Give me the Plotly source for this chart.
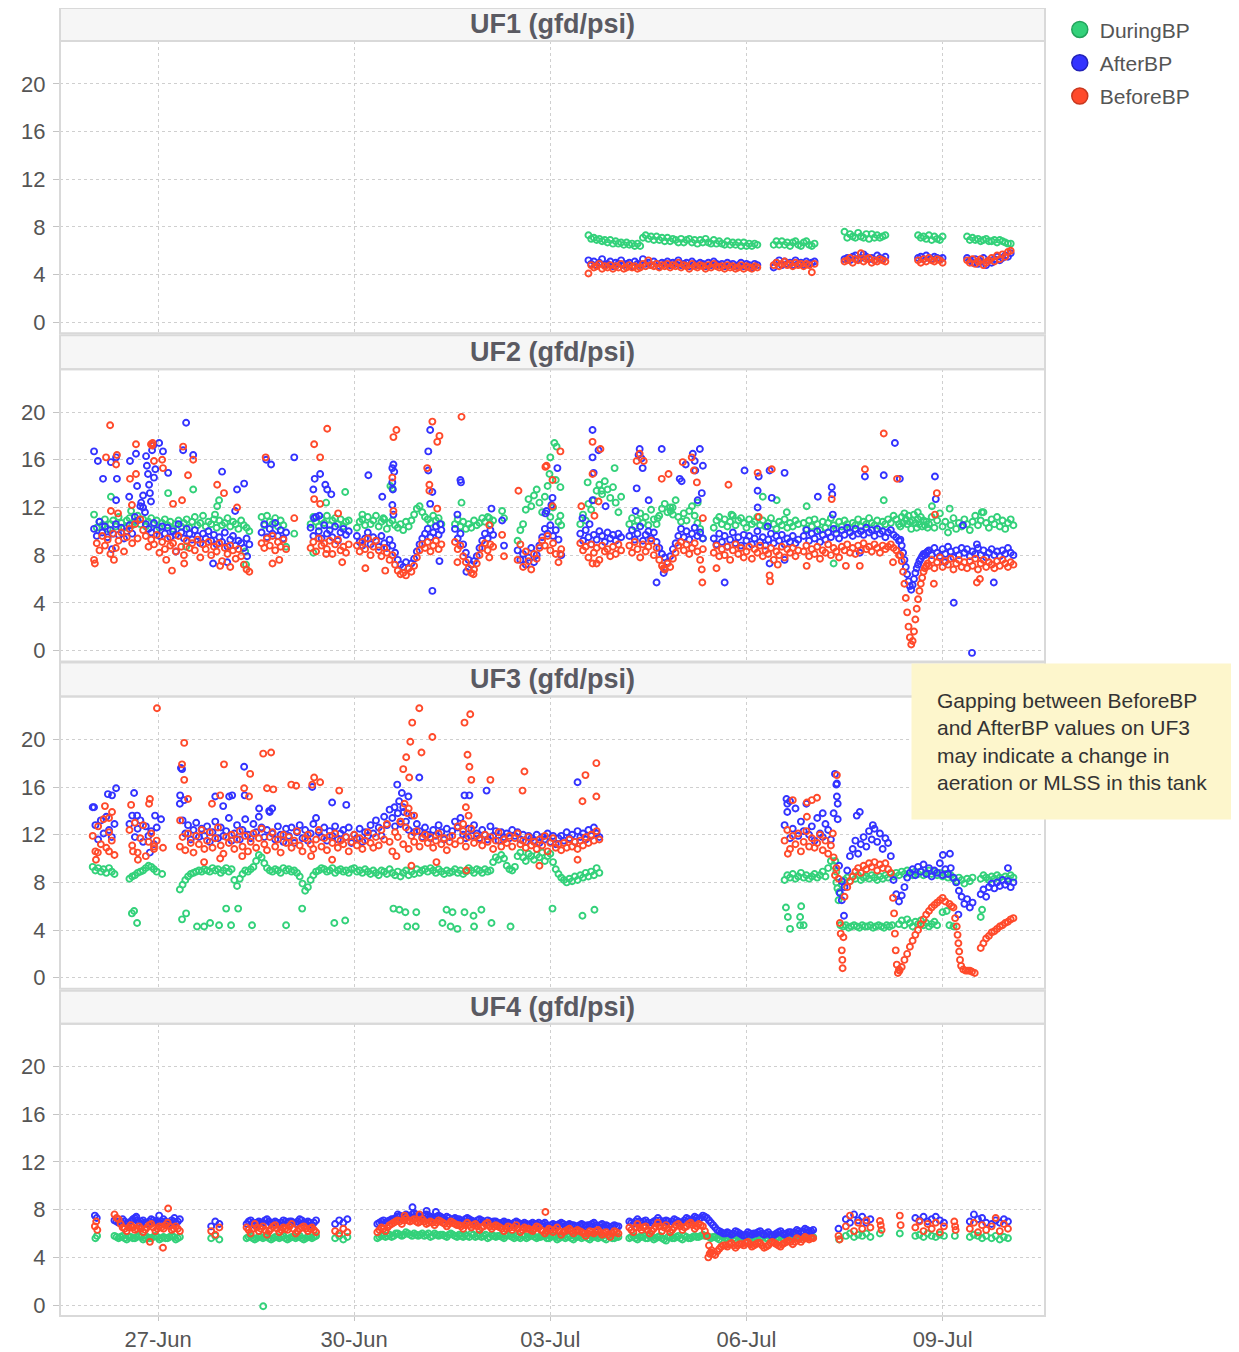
import pandas as pd
import plotly.graph_objects as go
from plotly.subplots import make_subplots

T0 = pd.Timestamp("2018-06-26 00:00")  # hours in the data are counted from this moment

PANEL_TITLES = ["UF1 (gfd/psi)", "UF2 (gfd/psi)", "UF3 (gfd/psi)", "UF4 (gfd/psi)"]
SERIES = ["DuringBP", "AfterBP", "BeforeBP"]
COLORS = {"DuringBP": "#33d17a", "AfterBP": "#3333ff", "BeforeBP": "#ff4a2b"}
EDGE = {"DuringBP": "#23a35c", "AfterBP": "#2222b8", "BeforeBP": "#c9381f"}
Y_TICKS = [0, 4, 8, 12, 16, 20]
X_TICK_DATES = ["2018-06-27", "2018-06-30", "2018-07-03", "2018-07-06", "2018-07-09"]
X_TICK_LABELS = ["27-Jun", "30-Jun", "03-Jul", "06-Jul", "09-Jul"]
NOTE = ["Gapping between BeforeBP", "and AfterBP values on UF3",
        "may indicate a change in", "aeration or MLSS in this tank"]

# ---- data: segments are (start hour, hour step, values); extras are (hour, value) ----
# UF1
UF1_DURING = [
    (182, 1, [7.3, 7.0, 7.1, 6.9, 7.0, 6.8, 6.9, 6.7, 6.9, 6.6, 6.8, 6.6, 6.7, 6.5, 6.7, 6.5, 6.6, 6.4, 6.6, 6.4]),
    (202, 1, [7.1, 7.3, 7.0, 7.2, 6.9, 7.2, 6.9, 7.1, 6.8, 7.1, 6.8, 7.0, 6.9, 6.7, 7.0, 6.7, 6.9, 7.0, 6.7, 6.9,
              6.6, 6.9, 6.7, 7.0, 6.7, 6.6, 6.9, 6.6, 6.8, 6.6, 6.5, 6.8, 6.5, 6.7, 6.5, 6.7, 6.4, 6.7, 6.4, 6.6,
              6.4, 6.6, 6.5]),
    (250, 1, [6.5, 6.8, 6.5, 6.8, 6.5, 6.7, 6.4, 6.7, 6.8, 6.5, 6.4, 6.7, 6.8, 6.5, 6.4, 6.6]),
    (276, 1, [7.6, 7.1, 7.4, 7.2, 7.1, 7.5, 7.2, 7.1, 7.4, 7.0, 7.4, 7.1, 7.3, 7.1, 7.2, 7.3]),
    (303, 1, [7.3, 7.1, 7.2, 7.0, 7.3, 6.9, 7.2, 7.0, 6.9, 7.2]),
    (321, 1, [7.2, 6.9, 7.1, 6.9, 7.0, 6.8, 6.9, 7.0, 6.8, 6.8, 6.9, 6.7, 6.9, 6.8, 6.7, 6.6, 6.6]),
]
UF1_DURING_X = []
UF1_AFTER = [
    (182, 1, [5.2, 4.9, 5.1, 4.8, 5.0, 5.3, 4.8, 4.9, 5.1, 4.7, 5.0, 4.9, 5.2, 4.8, 4.9, 5.0, 4.7, 5.1, 4.9, 4.8,
              5.3, 4.9, 5.0, 4.8, 5.1, 4.9, 4.7, 5.0, 4.9, 5.1, 4.8, 5.0, 4.9, 5.2, 4.8, 4.9, 5.0, 4.7, 5.1, 4.9,
              4.8, 5.0, 4.9, 4.7, 5.0, 4.8, 5.1, 4.9, 4.8, 4.9, 4.7, 5.0, 4.8, 4.9, 4.7, 4.8, 5.0, 4.7, 4.9, 4.8,
              4.6, 4.9, 4.8]),
    (250, 1, [4.6, 5.0, 5.2, 4.8, 5.1, 4.9, 5.0, 4.8, 5.2, 4.9, 5.0, 4.8, 5.1, 4.9, 5.0, 5.1]),
    (276, 1, [5.3, 5.4, 5.2, 5.5, 5.6, 5.3, 5.4, 5.7, 5.5, 5.3, 5.4, 5.2, 5.6, 5.4, 5.3, 5.5]),
    (303, 1, [5.4, 5.5, 5.3, 5.6, 5.4, 5.3, 5.5, 5.4, 5.3, 5.4]),
    (321, 1, [5.4, 5.2, 5.0, 5.3, 4.9, 5.1, 5.4, 4.8, 5.2, 5.0, 5.3, 5.5, 5.2, 5.4, 5.6, 5.5, 5.8]),
]
UF1_AFTER_X = []
UF1_BEFORE = [
    (182, 1, [4.1, 4.8, 4.6, 4.7, 4.9, 4.5, 4.7, 4.6, 4.8, 4.5, 4.7, 4.6, 4.9, 4.5, 4.6, 4.8, 4.6, 4.7, 4.5, 4.6,
              4.9, 4.7, 5.2, 4.8, 4.7, 4.9, 4.6, 4.8, 4.7, 4.9, 4.6, 4.8, 4.7, 5.0, 4.6, 4.8, 4.7, 4.5, 4.9, 4.7,
              4.6, 4.8, 4.7, 4.5, 4.8, 4.6, 4.9, 4.7, 4.6, 4.7, 4.5, 4.8, 4.6, 4.7, 4.5, 4.6, 4.8, 4.5, 4.7, 4.6,
              4.5, 4.7, 4.6]),
    (250, 1, [4.8, 5.0, 4.7, 4.9, 5.1, 4.8, 4.9, 4.7, 5.0, 4.8, 4.9, 4.7, 4.9, 4.8, 4.2, 4.9]),
    (276, 1, [5.1, 5.2, 5.4, 5.0, 5.3, 5.2, 5.8, 5.1, 5.3, 5.4, 5.0, 5.2, 5.1, 5.3, 5.2, 5.1]),
    (303, 1, [5.2, 5.0, 5.3, 5.1, 5.4, 5.2, 5.1, 5.3, 5.2, 5.0]),
    (321, 1, [5.2, 5.0, 5.3, 4.9, 5.1, 5.3, 4.8, 5.0, 5.2, 5.4, 5.1, 5.6, 5.3, 5.7, 5.5, 5.9, 6.0]),
]
UF1_BEFORE_X = []

# UF2
UF2_DURING = [
    (0.5, 1, [11.4, 10.3, 10.8, 10.5, 11.0, 10.2, 10.6, 10.9, 10.4, 11.2, 10.7, 10.3, 10.9, 11.1, 10.5, 10.8, 11.3,
              10.6, 11.0, 10.4, 10.8, 11.1, 10.6, 10.9, 10.3, 10.7, 11.0, 10.5, 10.8, 10.2, 10.6, 10.9, 10.4, 10.7,
              11.0, 10.3, 10.8, 11.2, 10.5, 10.7, 11.3, 10.4, 10.8, 10.6, 11.0, 10.3, 10.9, 10.5, 10.7, 11.1, 10.4,
              10.8, 10.6, 10.2, 10.9, 10.5, 10.3, 10.0]),
    (62, 1, [11.2, 10.5, 11.3, 10.8, 10.6, 11.1, 10.4, 10.9, 10.5, 8.7]),
    (80, 1, [10.6, 11.2, 10.8, 10.4, 11.0, 10.7, 11.3, 10.5, 10.9, 11.1, 10.6, 11.0, 10.4, 10.8, 10.9]),
    (97, 1, [10.3, 10.8, 11.0, 10.5, 11.2, 10.6, 10.9, 11.3, 10.4, 10.8, 11.0, 10.2, 10.7, 10.9, 10.5, 10.3, 10.6,
             10.1, 10.8, 10.4, 10.9, 11.4, 11.9, 12.1, 11.6, 11.2, 11.0, 10.7, 11.3, 10.9, 11.1, 10.6]),
    (133, 1, [10.6, 11.0, 10.4, 10.8, 10.2, 10.6, 10.3, 10.9, 10.5, 10.7, 11.1, 10.8, 11.2, 10.6, 10.9]),
    (156, 1, [9.2, 10.1, 10.6, 11.8, 12.7, 12.1, 13.0, 13.5, 12.4, 11.6, 12.9, 13.8, 11.2, 12.0, 14.3, 10.8, 10.5]),
    (179, 1, [10.6, 11.4, 10.9, 12.3, 11.8, 12.6, 13.4, 13.9, 13.1, 14.2, 13.5, 12.8, 13.7, 12.4, 11.6, 12.9]),
    (197, 1, [10.6, 11.1, 10.4, 10.9, 11.5, 10.7, 11.2, 10.5, 11.8, 11.0, 10.6, 11.3, 11.9, 12.3, 11.6, 12.0, 11.4,
              12.6, 11.2, 10.8, 11.5, 10.9, 11.7, 12.1, 11.3, 10.7, 10.2, 9.4]),
    (228, 1, [10.3, 10.9, 11.2, 10.6, 11.0, 10.4, 10.8, 11.3, 10.5, 10.9, 11.1, 10.7, 10.3, 11.0, 10.6, 10.8, 11.2,
              10.5, 10.9, 10.4, 10.7, 11.1, 10.6, 10.2, 10.8, 10.5, 11.0, 10.3, 10.7, 10.4, 10.9, 10.6]),
    (261, 1, [10.7, 10.2, 10.9, 10.4, 11.0, 10.6, 10.1, 10.8, 10.3, 10.7, 11.1, 10.5, 10.2, 10.8, 10.4, 10.9, 10.6,
              10.3, 10.7, 10.5, 11.0, 10.4, 10.8, 10.6, 11.1, 10.7, 10.5, 10.9, 10.4, 10.8, 10.6, 11.0, 10.7, 11.3,
              11.0, 10.6]),
    (296.5, 0.5, [10.4, 11.2, 10.7, 11.5, 11.0, 10.6, 11.3, 10.8, 10.2, 10.9, 11.4, 10.7, 10.3, 11.0, 10.6, 11.2,
                  10.4, 10.9, 10.5, 10.8, 10.3]),
    (307, 1, [10.6, 11.2, 10.3, 10.9, 11.5, 10.4, 10.8, 9.9, 10.5, 11.1, 10.2, 10.7, 10.4, 11.0, 10.6, 10.1, 10.8,
              11.3, 10.5, 10.9, 11.6, 10.7, 10.3, 11.0, 10.6, 11.2, 10.4, 10.9, 10.2, 10.7, 11.0, 10.5]),
]
UF2_DURING_X = [
    (6.7, 12.9), (27.7, 13.2), (36.9, 13.5), (45.7, 12.1), (46.4, 12.6), (44.9, 11.4), (14.1, 11.7), (56.0, 8.3),
    (56.3, 7.2), (34.3, 8.7), (74.0, 9.8), (92.7, 13.3), (85.7, 12.4), (81.0, 8.2), (109.3, 13.8), (110.0, 13.6),
    (99.0, 11.4), (106.7, 11.1), (135.4, 12.4), (145.6, 11.1), (150.3, 11.7), (151.0, 11.1), (169.5, 17.4),
    (170.3, 17.1), (167.7, 14.8), (171.7, 13.7), (171.7, 11.3), (168.0, 16.2), (181.7, 14.1), (186.8, 13.4),
    (191.6, 15.3), (212.9, 12.0), (212.2, 11.7), (222.1, 12.4), (207.4, 11.1), (246.0, 12.9), (251.1, 12.6),
    (234.5, 11.4), (254.8, 11.6), (290.4, 12.6), (262.1, 12.1), (272.0, 7.3), (302.9, 11.6), (314.6, 11.9),
    (308.1, 12.1), (326.4, 11.6),
]
UF2_AFTER = [
    (0.5, 1, [10.2, 9.6, 10.8, 9.9, 10.4, 9.5, 10.1, 9.8, 10.6, 9.7, 10.3, 9.4, 10.0, 10.5, 9.8, 11.2, 10.9, 12.1,
              13.0, 10.6, 10.2, 9.9, 10.7, 10.1, 9.6, 10.4, 9.8, 10.3, 9.5, 10.0, 9.7, 10.6, 9.9, 9.4, 10.2, 9.8, 9.3,
              10.1, 9.6, 9.0, 9.8, 9.4, 10.0, 9.2, 9.7, 8.9, 9.5, 9.1, 9.9, 8.7, 9.3, 9.6, 8.8, 9.2, 9.0, 8.6, 9.4,
              8.9]),
    (62, 1, [9.9, 10.6, 9.5, 10.2, 9.8, 10.7, 9.6, 10.1, 9.4, 9.9]),
    (80, 1, [10.3, 9.6, 11.2, 10.0, 9.4, 10.5, 9.8, 10.1, 9.5, 10.4, 9.2, 9.9, 10.2, 9.7, 10.0]),
    (97, 1, [9.6, 9.1, 8.8, 9.4, 9.9, 8.9, 9.5, 9.2, 8.7, 9.6, 9.0, 8.6, 9.3, 8.8, 8.2, 7.6, 7.2, 7.0, 7.4, 6.9,
             7.3, 7.7, 8.3, 8.9, 9.4, 9.8, 10.2, 9.5, 9.9, 10.4, 9.7, 10.1]),
    (133, 1, [10.2, 9.4, 9.8, 8.9, 8.2, 7.6, 7.2, 7.5, 7.9, 8.6, 9.2, 9.8, 9.4, 10.1, 9.7]),
    (156, 1, [8.4, 7.6, 8.1, 7.2, 7.8, 8.6, 7.4, 8.0, 8.8, 9.5, 10.2, 9.8, 10.5, 9.6, 10.1, 9.3, 8.0]),
    (179, 1, [9.8, 9.2, 10.1, 9.5, 8.9, 9.7, 9.3, 10.0, 9.6, 9.1, 9.9, 9.4, 9.7, 9.2, 9.8, 9.5]),
    (197, 1, [9.6, 10.1, 9.3, 9.8, 10.4, 9.2, 9.7, 10.0, 9.4, 9.9, 9.1, 8.6, 8.1, 7.8, 7.4, 7.9, 8.5, 9.0, 9.6,
              10.2, 9.5, 10.0, 9.3, 9.8, 10.3, 9.6, 9.9, 9.4]),
    (228, 1, [9.4, 8.9, 9.8, 9.1, 9.6, 8.7, 9.3, 9.9, 9.0, 9.5, 8.8, 9.7, 9.2, 9.6, 8.9, 9.4, 10.0, 9.1, 9.5, 8.8,
              9.3, 9.8, 9.0, 9.6, 9.2, 9.7, 8.9, 9.4, 9.1, 9.6, 9.0, 9.3]),
    (261, 1, [9.6, 10.1, 9.2, 9.8, 9.4, 10.0, 9.1, 9.7, 9.3, 9.9, 9.5, 10.2, 9.8, 9.4, 10.1, 9.7, 10.3, 9.9, 9.6,
              10.2, 9.8, 10.0, 9.7, 10.3, 9.9, 10.1, 9.6, 10.2, 9.8, 10.0, 9.5, 9.9, 10.1, 9.7, 9.5, 9.2]),
    (296.5, 0.5, [9.3, 8.8, 8.2, 7.6, 7.0, 6.4, 5.8, 5.4, 5.1, 5.5, 6.0, 6.5, 6.9, 7.2, 7.5, 7.7, 7.9, 8.1, 8.0,
                  8.2, 8.3]),
    (307, 1, [8.4, 8.0, 8.6, 8.2, 7.9, 8.5, 8.1, 8.7, 8.3, 7.8, 8.4, 8.0, 8.6, 8.2, 8.5, 7.9, 8.3, 8.1, 8.6, 8.0,
              8.4, 7.8, 8.2, 8.5, 8.0, 8.3, 7.9, 8.4, 8.1, 8.6, 8.2, 8.0]),
]
UF2_AFTER_X = [
    (0.5, 16.7), (1.9, 15.9), (3.8, 14.4), (6.7, 15.8), (8.6, 16.2), (8.9, 14.4), (8.6, 12.6), (13.7, 15.9),
    (15.9, 16.5), (16.3, 13.8), (13.4, 12.9), (19.6, 16.3), (19.9, 15.5), (20.3, 14.8), (20.7, 13.9), (21.0, 13.2),
    (21.4, 12.5), (21.8, 16.8), (22.2, 17.2), (22.5, 14.5), (23.0, 15.2), (24.4, 17.4), (25.8, 16.7), (27.7, 14.9),
    (33.2, 16.8), (34.3, 19.1), (36.9, 16.4), (47.5, 15.0), (52.3, 11.7), (53.0, 13.5), (55.6, 14.0), (44.2, 7.3),
    (30.6, 8.3), (7.1, 8.5), (49.4, 7.4), (56.7, 7.9), (18.5, 12.0), (19.2, 11.6), (17.8, 12.4),
    (63.7, 16.0), (65.5, 15.6), (74.0, 16.2),
    (81.0, 13.5), (83.5, 14.8), (85.4, 13.9), (86.1, 13.5), (87.6, 13.1), (81.3, 11.1), (83.2, 11.3), (81.5, 14.4),
    (101.2, 14.7), (106.3, 12.9), (110.0, 15.3), (110.4, 15.6), (110.7, 15.0), (110.0, 14.1), (110.2, 13.5),
    (110.0, 12.2), (110.4, 11.4), (123.9, 18.5), (123.2, 16.7), (123.2, 15.1), (124.7, 13.3), (123.9, 12.3),
    (124.7, 5.0), (127.3, 7.5), (127.6, 10.6),
    (133.9, 11.4), (135.0, 14.3), (135.2, 14.1), (146.4, 11.9), (137.2, 6.6), (150.3, 10.9), (151.0, 8.8),
    (166.6, 11.7), (168.4, 12.2), (170.6, 15.3), (168.8, 12.8), (166.2, 11.5),
    (183.5, 18.5), (183.5, 16.2), (185.7, 16.8), (183.9, 14.9), (183.5, 12.6), (188.3, 12.1), (179.8, 11.1),
    (182.4, 10.6),
    (200.8, 16.9), (200.4, 16.4), (201.5, 16.1), (201.9, 15.3), (199.7, 13.6), (199.3, 11.7), (204.1, 12.6),
    (208.9, 16.9), (207.0, 5.7), (215.5, 14.4), (216.2, 14.2), (217.7, 15.6), (220.3, 16.5), (221.0, 15.9),
    (221.2, 15.1), (222.9, 16.9), (223.6, 13.2), (224.0, 15.5), (222.1, 12.6), (210.0, 6.8), (209.6, 6.5),
    (232.0, 5.7), (239.3, 15.1), (244.5, 14.6), (244.1, 13.4), (244.1, 12.0), (248.5, 15.1), (249.3, 12.8),
    (254.0, 14.9), (247.8, 10.4), (248.5, 7.3), (254.0, 7.6),
    (266.2, 12.9), (271.3, 13.7), (271.5, 13.1), (271.7, 11.4), (283.5, 14.6), (290.4, 14.7), (294.5, 17.4),
    (296.3, 14.4), (309.2, 14.6), (309.5, 12.7), (316.1, 4.0), (322.8, -0.2), (330.8, 5.7), (319.5, 10.5),
    (324.6, 8.9), (281.6, 8.2), (312.8, 7.4),
]
UF2_BEFORE = [
    (0.5, 1, [7.6, 9.0, 8.4, 9.6, 8.8, 9.3, 8.1, 9.8, 8.6, 9.2, 9.9, 8.3, 9.5, 10.2, 9.0, 10.6, 9.4, 11.0, 10.1,
              9.6, 8.7, 9.3, 8.9, 9.7, 8.2, 9.1, 8.5, 9.4, 8.8, 9.0, 8.3, 9.6, 8.7, 8.0, 9.2, 8.6, 9.0, 8.4, 9.3, 7.8,
              8.9, 8.5, 9.1, 8.0, 8.7, 8.3, 9.0, 7.5, 8.6, 8.1, 8.8, 8.4, 7.7, 8.5, 7.9, 7.2, 6.8, 6.6]),
    (62, 1, [9.0, 8.6, 9.4, 8.8, 9.6, 8.4, 9.1, 8.7, 9.3, 8.5]),
    (80, 1, [8.6, 9.1, 8.3, 9.4, 8.8, 9.0, 8.5, 9.2, 8.1, 8.9, 9.3, 8.4, 8.7, 8.2, 8.9]),
    (97, 1, [8.8, 8.3, 9.1, 8.5, 9.4, 8.0, 8.7, 9.2, 8.4, 7.9, 8.6, 8.2, 7.6, 8.0, 7.2, 6.7, 6.4, 6.5, 6.3, 6.9,
             6.6, 7.1, 7.8, 8.4, 8.9, 8.6, 9.1, 8.3, 8.8, 9.2, 8.5, 8.9]),
    (133, 1, [9.1, 8.5, 8.8, 7.9, 7.4, 6.9, 6.5, 6.8, 7.3, 8.0, 8.6, 9.0, 8.4, 8.9, 8.7]),
    (156, 1, [7.6, 8.9, 7.0, 8.3, 7.5, 6.8, 8.1, 7.7, 8.6, 9.2, 8.8, 9.6, 8.4, 9.0, 8.1, 7.4, 8.5]),
    (179, 1, [9.0, 8.4, 8.7, 7.8, 8.9, 8.2, 8.6, 7.6, 8.8, 8.3, 8.5, 7.9, 8.7, 8.1, 8.9, 8.4]),
    (197, 1, [8.8, 8.2, 9.1, 8.5, 7.8, 8.9, 8.3, 8.7, 9.2, 8.0, 8.6, 7.6, 7.1, 6.8, 7.3, 7.0, 7.7, 8.2, 8.8, 9.1,
              8.4, 8.9, 8.1, 8.6, 9.0, 8.3, 7.6, 8.5]),
    (228, 1, [8.2, 8.8, 7.9, 8.5, 8.0, 8.7, 7.6, 8.4, 8.9, 8.1, 8.6, 7.8, 8.3, 8.7, 7.7, 8.5, 8.2, 8.8, 7.9, 8.4,
              8.1, 8.6, 7.6, 8.3, 8.0, 8.7, 7.8, 8.5, 8.2, 8.6, 7.9, 8.4]),
    (261, 1, [8.3, 8.8, 7.9, 8.5, 8.1, 8.7, 7.7, 8.4, 8.2, 8.9, 8.0, 8.6, 8.3, 7.8, 8.7, 8.4, 8.9, 8.2, 8.6, 8.1,
              8.8, 8.4, 9.0, 8.5, 8.7, 8.3, 8.9, 8.6, 8.2, 8.8, 8.5, 8.7, 8.9, 8.6, 8.4, 8.0]),
    (296.5, 0.5, [8.0, 7.5, 6.6, 5.6, 4.4, 3.2, 2.0, 1.1, 0.5, 0.8, 1.6, 2.6, 3.5, 4.3, 5.0, 5.6, 6.1, 6.6, 6.9,
                  7.1, 7.3]),
    (307, 1, [7.1, 7.6, 6.9, 7.4, 7.8, 7.0, 7.5, 7.2, 7.7, 6.8, 7.3, 7.6, 7.0, 7.4, 6.9, 7.5, 7.1, 7.7, 6.8, 7.3,
              7.6, 7.0, 7.4, 7.2, 6.9, 7.5, 7.1, 7.6, 7.3, 7.0, 7.4, 7.2]),
]
UF2_BEFORE_X = [
    (6.4, 18.9), (4.9, 16.2), (8.9, 16.4), (8.6, 15.6), (15.9, 17.3), (13.7, 14.4), (15.9, 14.8), (21.4, 17.3),
    (21.8, 17.2), (22.0, 17.4), (22.5, 15.9), (25.5, 16.0), (25.8, 15.3), (33.2, 17.1), (36.9, 16.0), (35.0, 14.7),
    (29.5, 12.3), (32.8, 12.6), (6.7, 11.7), (9.3, 11.5), (14.4, 12.2), (29.1, 6.7), (33.6, 7.3), (27.0, 7.6),
    (0.8, 7.3), (7.8, 7.6), (53.0, 12.0), (45.7, 13.9), (48.2, 13.2), (50.5, 7.0), (46.8, 7.1),
    (63.5, 16.2), (66.0, 7.3), (68.5, 7.6), (74.0, 11.1),
    (81.3, 17.3), (83.5, 16.2), (86.1, 18.6), (81.3, 12.7), (83.5, 12.3), (90.1, 11.5), (91.6, 7.4), (85.7, 8.1),
    (110.4, 17.9), (111.5, 18.5), (124.7, 19.2), (127.3, 18.0), (126.5, 17.5), (122.8, 15.3), (123.6, 13.9),
    (123.6, 13.4), (110.0, 14.5), (110.4, 11.7), (126.5, 11.9), (100.1, 6.9), (107.4, 6.7),
    (135.4, 19.6), (145.6, 10.5), (145.6, 7.8), (133.9, 7.4), (139.8, 6.4), (150.3, 9.7), (151.0, 7.9),
    (156.3, 13.4), (166.6, 15.5), (171.7, 16.7), (168.8, 14.3), (168.8, 12.1), (171.7, 8.1), (166.2, 15.4),
    (183.5, 17.5), (186.4, 16.9), (185.7, 12.5), (179.4, 12.1), (183.5, 14.8), (184.2, 11.3), (183.5, 7.3),
    (185.0, 7.3),
    (199.7, 15.9), (200.8, 16.5), (202.3, 15.9), (208.9, 14.4), (211.4, 14.8), (216.6, 15.8), (219.9, 16.2),
    (220.7, 15.1), (221.8, 14.1), (224.0, 11.1), (223.6, 6.8), (223.8, 5.7), (209.6, 6.9),
    (233.4, 13.9), (244.1, 14.9), (249.3, 15.2), (248.5, 6.3), (248.7, 5.8), (229.0, 6.9), (251.5, 7.2),
    (244.5, 11.2),
    (271.3, 12.7), (283.5, 15.2), (290.4, 18.2), (295.3, 14.4), (309.9, 13.2), (309.2, 11.4), (308.8, 5.6),
    (324.6, 5.7), (325.7, 6.0), (281.6, 7.1), (262.1, 7.1), (293.8, 7.4), (276.5, 7.1),
]

# UF3
UF3_DURING = [
    (0, 1, [9.3, 9.0, 9.2, 8.9, 9.1, 8.8, 9.2, 8.9, 8.7]),
    (13.5, 1, [8.3, 8.5, 8.6, 8.8, 8.9, 9.0, 9.2, 9.4, 9.3, 9.1, 8.9]),
    (32, 1, [7.4, 7.8, 8.2, 8.5, 8.7, 8.8, 8.9, 9.0, 8.9, 9.1,
             9.0, 8.9, 9.2, 9.0, 9.1, 8.8, 9.0, 9.2, 8.9, 9.1,
             8.2, 7.7, 8.3, 8.7, 9.0, 8.9, 9.1, 9.3, 9.8, 10.3,
             10.1, 9.6, 9.2, 9.0, 8.9, 9.1, 9.0, 8.8, 9.2, 9.0,
             9.1, 8.9, 9.0, 8.8, 8.5, 7.9, 7.3, 7.6, 8.2, 8.6,
             8.9, 9.0, 9.2, 9.1, 8.9, 9.0, 9.2, 8.8, 9.0, 9.1,
             8.9, 9.0, 8.8, 9.1, 9.2, 8.9, 9.0, 8.8, 9.1, 8.9,
             8.7, 9.0, 8.8, 8.6, 9.0, 8.9, 8.7, 9.1, 8.8, 8.6,
             8.9, 8.5, 8.8, 9.0, 8.6, 8.9, 8.7, 9.1, 8.8, 9.0,
             9.1, 8.9, 9.2, 9.0, 8.8, 9.1, 8.9, 8.7, 9.0, 8.8,
             8.9, 9.1, 8.8, 9.0, 8.7, 8.9, 9.2, 9.0, 8.8, 9.1,
             9.0, 8.8, 9.1, 8.9, 9.0, 9.7, 10.1, 9.9, 10.3, 10.0,
             9.4, 9.1, 9.0, 9.3, 10.2, 10.5, 10.1, 9.8, 10.4, 10.2,
             9.9, 10.3, 10.1, 10.5, 9.8, 10.2, 10.4, 9.7, 9.1, 8.7,
             8.4, 8.2, 8.0, 8.3, 8.1, 8.5, 8.2, 8.6, 8.4, 8.8,
             8.5, 8.9, 8.6, 9.2, 8.8]),
    (254, 1, [8.2, 8.6, 8.4, 8.7, 8.3, 8.5, 8.8, 8.4, 8.6, 8.3, 8.5, 8.7, 8.4, 8.6, 8.9, 8.5, 9.2, 9.8, 9.4, 8.0]),
    (274, 1, [7.2, 7.8, 8.2, 8.4, 8.1, 8.5, 8.3, 8.6, 8.2, 8.4,
              8.5, 8.3, 8.6, 8.4, 8.2, 8.5, 8.3, 8.6, 8.4, 8.7,
              8.5, 8.8, 8.6, 8.9, 8.7, 9.0, 8.8, 8.6, 8.9, 8.7,
              8.9, 8.6, 8.8, 9.0, 8.7, 8.9, 8.6, 8.8, 8.5, 8.7,
              8.4, 8.6, 8.3, 8.1, 8.4, 8.2, 7.9, 8.3, 8.1, 8.4]),
    (326, 1, [8.3, 8.6, 8.4, 8.2, 8.5, 8.3, 8.6, 8.4, 8.2, 8.5, 8.3, 8.6, 8.4]),
    (274.5, 1, [4.4, 4.3, 4.4, 4.2, 4.3, 4.4, 4.3, 4.2, 4.4, 4.3, 4.3, 4.4, 4.2, 4.3, 4.4, 4.3, 4.2, 4.4, 4.3, 4.4]),
    (296, 1, [4.5, 4.8, 4.4, 4.9, 4.6, 4.3, 4.7, 4.5, 4.8, 4.4, 4.6, 4.3, 4.5, 4.7, 4.4]),
]
UF3_DURING_X = [
    (14.4, 5.4), (15.2, 5.6), (16.3, 4.6), (25.5, 8.7),
    (32.8, 4.9), (34.3, 5.4), (38.3, 4.3), (40.9, 4.3), (43.1, 4.6), (46.4, 4.4), (49.0, 5.8), (50.8, 4.4),
    (53.4, 5.8), (58.5, 4.4), (71.0, 4.4), (76.9, 5.8), (88.7, 4.6), (92.7, 4.8), (110.4, 5.8), (112.6, 5.7),
    (114.8, 5.5), (118.8, 5.5), (115.5, 4.3), (118.6, 4.3), (128.4, 4.6), (129.9, 5.7), (132.1, 5.5),
    (131.4, 4.3), (133.9, 4.1), (136.5, 5.5), (139.8, 5.2), (140.0, 4.3), (142.7, 5.7), (146.4, 4.6),
    (153.4, 4.3), (168.8, 5.8), (179.8, 5.2), (184.2, 5.7),
    (254.5, 5.9), (255.2, 5.1), (256.0, 4.1), (259.7, 5.1), (260.1, 6.0), (259.7, 4.4), (261.0, 4.4),
    (272.6, 9.8), (273.0, 8.9), (273.4, 7.5), (273.8, 6.5), (312.0, 5.5), (313.5, 5.6), (314.5, 4.4),
    (316.0, 4.3), (326.0, 5.1), (326.5, 5.7),
]
UF3_AFTER = [
    (0, 1, [14.3, 12.8, 11.6, 13.2, 12.1, 13.5, 12.4, 11.8, 12.9]),
    (13.5, 1, [12.9, 13.6, 11.8, 12.5, 13.2, 11.4, 12.7, 11.9, 12.3, 11.2, 12.6]),
    (32, 1, [14.6, 13.2, 12.1, 12.8, 11.6, 12.4, 13.0, 11.8, 12.5, 11.9,
             12.7, 11.4, 12.2, 13.1, 11.7, 12.6, 11.9, 12.3, 13.4, 11.5,
             12.1, 12.8, 11.6, 12.4, 13.3, 12.0, 11.7, 12.9, 12.2, 13.5,
             12.6, 11.8, 12.4, 13.9, 12.1, 11.6, 12.7, 12.0, 11.4, 12.5,
             11.9, 12.6, 11.3, 12.2, 12.8, 11.7, 12.4, 11.5, 12.1, 12.9,
             13.4, 12.2, 11.8, 12.6, 11.5, 12.3, 11.9, 12.7, 11.6, 12.1,
             12.4, 11.8, 12.6, 11.3, 12.0, 11.7, 12.5, 11.4, 12.2, 11.9,
             12.8, 12.1, 13.2, 12.6, 11.9, 13.5, 12.8, 14.1, 13.4, 12.7,
             13.8, 12.9, 14.3, 13.1, 12.4, 13.6, 12.2, 12.9, 12.3, 11.8,
             12.6, 12.0, 11.7, 12.4, 11.9, 12.8, 12.2, 11.6, 12.5, 11.8,
             12.3, 13.1, 12.6, 13.4, 12.0, 11.7, 12.5, 11.9, 12.8, 12.1,
             11.7, 12.4, 12.0, 11.6, 12.7, 11.9, 12.3, 11.5, 12.2, 11.8,
             12.1, 11.7, 12.4, 11.9, 12.2, 11.6, 12.0, 11.4, 11.9, 11.7,
             11.5, 12.0, 11.3, 11.8, 11.6, 12.1, 11.4, 11.9, 11.2, 11.7,
             11.9, 11.5, 12.2, 11.7, 12.0, 11.4, 12.3, 11.8, 12.1, 11.6,
             12.4, 11.9, 12.6, 12.1, 11.8]),
    (254, 1, [12.8, 13.9, 11.7, 12.5, 14.2, 11.9, 13.1, 12.3, 14.6, 12.0,
              12.7, 11.5, 13.4, 12.1, 11.8, 12.9, 12.4, 11.6, 13.8, 16.2,
              9.4, 8.1, 7.6, 9.0, 10.2, 10.8, 11.5, 10.4, 11.2, 11.8,
              11.0, 12.3, 11.6, 12.5, 11.4, 12.1, 10.8, 11.7, 11.3, 10.2,
              8.2, 7.0, 6.4, 6.9, 7.6, 8.4, 8.8, 9.1, 8.6, 9.3,
              8.9, 9.5, 8.7, 9.2, 8.5, 9.0, 8.8, 9.6, 8.6, 9.1,
              8.7, 9.2, 8.4, 8.0, 7.3, 6.8, 6.2, 6.6, 5.9, 6.3]),
    (326, 1, [7.0, 7.4, 6.8, 7.6, 7.9, 7.5, 8.0, 7.7, 8.2, 7.8, 8.1, 7.6, 8.0]),
]
UF3_AFTER_X = [
    (5.6, 15.4), (8.6, 15.9), (7.1, 15.3), (0.5, 14.3),
    (15.2, 15.5), (16.3, 13.6), (22.9, 13.6), (25.1, 13.3), (21.0, 10.5),
    (32.4, 17.6), (32.8, 17.5), (32.1, 15.3), (33.6, 14.9), (55.6, 17.7), (55.8, 15.3), (50.1, 15.2), (51.2, 15.3),
    (47.9, 14.4), (80.6, 16.0), (87.9, 14.7), (93.1, 14.5), (45.0, 15.2), (65.9, 14.2), (61.1, 14.2), (64.8, 14.0),
    (111.8, 16.2), (119.9, 16.8), (115.9, 15.2), (144.6, 15.7), (178.0, 16.4), (136.5, 15.3), (138.3, 15.3),
    (112.5, 14.8), (113.5, 15.5), (110.8, 14.3), (114.2, 13.9),
    (254.7, 15.0), (255.0, 14.6), (256.0, 14.8), (268.0, 13.8), (272.5, 17.1), (273.2, 16.3), (273.2, 15.2),
    (273.5, 14.6), (273.5, 13.3), (280.5, 13.6), (281.6, 13.9), (286.4, 12.8), (312.1, 10.3), (314.7, 10.4),
    (336.0, 9.2), (317.8, 5.3), (274.3, 7.1), (275.0, 6.5), (275.8, 5.2),
]
UF3_BEFORE = [
    (0, 1, [11.9, 10.6, 12.7, 11.2, 13.3, 10.9, 12.2, 11.5, 10.3]),
    (13.5, 1, [12.4, 11.1, 13.0, 10.5, 11.7, 12.8, 10.2, 11.4, 12.1, 10.8, 11.5]),
    (32, 1, [11.0, 11.8, 10.7, 12.1, 11.3, 10.5, 11.9, 11.2, 12.4, 10.8,
             11.5, 12.2, 10.9, 11.7, 12.6, 11.1, 10.4, 11.8, 11.3, 12.0,
             10.8, 11.6, 12.3, 11.0, 11.9, 10.6, 11.4, 12.1, 10.9, 11.7,
             12.5, 11.2, 10.7, 11.8, 12.2, 11.0, 11.6, 10.5, 12.0, 11.3,
             11.8, 10.9, 11.5, 12.3, 11.1, 10.6, 11.7, 12.0, 11.2, 10.8,
             11.6, 12.4, 11.0, 11.7, 10.7, 11.9, 11.3, 12.1, 10.9, 11.5,
             11.2, 11.8, 10.6, 11.4, 12.0, 11.1, 11.7, 10.8, 11.5, 12.2,
             11.3, 10.9, 11.8, 11.1, 12.4, 11.6, 12.9, 11.4, 10.6, 12.2,
             11.8, 13.1, 11.2, 12.6, 10.8, 11.9, 11.4, 12.3, 11.0, 11.7,
             12.0, 11.3, 11.8, 10.9, 11.5, 12.1, 11.2, 11.7, 10.7, 11.4,
             11.9, 11.2, 12.7, 11.5, 12.3, 11.0, 11.8, 12.5, 11.3, 11.9,
             11.6, 11.1, 12.0, 11.4, 11.8, 10.8, 11.5, 12.2, 11.0, 11.6,
             11.3, 11.9, 11.0, 11.7, 12.1, 11.2, 11.5, 10.9, 11.8, 11.1,
             11.4, 10.8, 11.6, 11.1, 11.9, 10.6, 11.3, 11.7, 10.9, 11.2,
             10.7, 11.3, 10.9, 11.6, 11.0, 11.4, 10.8, 11.5, 11.1, 11.8,
             11.3, 12.0, 11.5, 12.3, 11.6]),
    (254, 1, [11.5, 12.4, 10.8, 11.9, 11.2, 12.1, 10.6, 11.4, 12.3, 11.0,
              11.7, 10.9, 11.3, 12.0, 10.7, 11.5, 10.4, 11.1, 10.1, 9.2]),
    (276, 1, [6.8, 7.6, 8.1, 8.5, 8.9, 9.2, 8.8, 9.4, 9.1, 9.6, 9.3, 9.7, 9.0, 9.5, 9.2, 9.6, 9.1, 8.8]),
    (296, 1, [0.7, 0.9, 1.5, 2.0, 2.6, 3.1, 3.6, 4.0, 4.5, 4.9, 5.3, 5.6, 5.9, 6.1, 6.3, 6.5, 6.7, 6.4]),
    (326, 1, [2.5, 2.9, 3.3, 3.5, 3.8, 3.9, 4.1, 4.3, 4.4, 4.6, 4.7, 4.9, 5.0]),
]
UF3_BEFORE_X = [
    (4.5, 14.4), (7.1, 13.9), (6.0, 13.4), (1.9, 10.5), (1.2, 9.9), (6.0, 10.6),
    (23.6, 22.6), (14.1, 14.5), (21.0, 15.0), (14.8, 10.6), (16.6, 9.9), (22.5, 11.0), (25.8, 10.9), (20.7, 14.6),
    (33.6, 19.7), (32.8, 17.9), (33.6, 16.6), (35.0, 15.0), (32.1, 13.2), (48.2, 17.9), (57.8, 17.1), (55.6, 15.9),
    (57.4, 15.2), (62.6, 18.8), (65.5, 18.9), (64.0, 15.9), (66.3, 15.8), (72.9, 16.2), (74.7, 16.1), (83.5, 16.4),
    (81.3, 16.8), (80.6, 16.2), (90.5, 15.7), (46.8, 15.3), (43.8, 14.6), (46.8, 10.0), (40.9, 9.7), (54.9, 10.2),
    (80.2, 10.2), (87.9, 9.9), (119.9, 22.6), (117.3, 21.4), (116.6, 19.8), (115.1, 18.5), (120.7, 18.9),
    (124.7, 20.2), (114.0, 17.5), (116.2, 16.8), (136.5, 21.4), (138.6, 22.1), (137.6, 18.7), (138.3, 17.7),
    (139.0, 16.6), (146.0, 16.6), (158.5, 17.3), (157.8, 15.7), (180.9, 17.0), (184.9, 18.0), (184.9, 15.2),
    (179.8, 14.8), (117.0, 9.4), (137.2, 9.0), (111.5, 10.2), (126.2, 9.7), (164.0, 9.4), (178.0, 9.9),
    (114.5, 14.6), (115.5, 13.8), (116.0, 14.2), (113.0, 13.1), (118.0, 13.6), (137.0, 14.3), (138.0, 13.6),
    (136.0, 12.9),
    (257.0, 14.9), (262.2, 14.7), (264.0, 14.9), (265.9, 15.1), (273.2, 17.0), (271.7, 12.1), (255.2, 10.4),
    (272.5, 8.6), (262.2, 13.5),
    (273.8, 8.3), (274.3, 4.6), (274.6, 3.7), (275.0, 2.3), (275.3, 0.8), (275.6, 3.4), (275.2, 1.5),
    (293.8, 6.7), (294.2, 5.4), (294.5, 3.7), (294.8, 2.3), (295.2, 1.1), (295.6, 0.4), (296.2, 0.6),
    (314.5, 6.2), (315.3, 6.0), (316.0, 5.9), (316.6, 5.0), (317.2, 4.3), (317.5, 3.6), (317.8, 2.9),
    (318.1, 2.2), (318.4, 1.5), (318.8, 1.0), (319.6, 0.7), (320.5, 0.6), (321.3, 0.6), (322.0, 0.6),
    (322.8, 0.5), (323.8, 0.4),
]

# UF4
UF4_DURING = [
    (8, 1.5, [5.8, 5.6, 5.8, 5.5, 5.7, 5.6, 5.8, 5.5, 5.7, 5.6, 5.8, 5.5, 5.7, 5.6, 5.8, 5.5, 5.7]),
    (8.75, 1.5, [5.7, 5.7, 5.6, 5.7, 5.6, 5.7, 5.7, 5.6, 5.6, 5.7, 5.7, 5.6, 5.6, 5.7, 5.7, 5.6]),
    (43.5, 1.5, [5.6, 5.8, 5.5]),
    (56.5, 1.5, [5.6, 5.8, 5.5, 5.7, 5.6, 5.8, 5.5, 5.7, 5.6, 5.8, 5.5, 5.7, 5.6, 5.8, 5.5, 5.7, 5.6, 5.8]),
    (57.25, 1.5, [5.7, 5.6, 5.6, 5.7, 5.7, 5.6, 5.6, 5.7, 5.7, 5.6, 5.6, 5.7, 5.7, 5.6, 5.6, 5.7, 5.7]),
    (89, 1.5, [5.6, 5.8, 5.5, 5.7]),
    (104.5, 1.5, [5.6, 5.8, 5.7, 5.9, 5.8, 6.0, 5.8, 6.1, 5.9, 6.0,
                  5.8, 6.0, 5.9, 5.7, 6.0, 5.8, 5.9, 5.7, 6.0, 5.8,
                  5.9, 5.7, 5.8, 6.0, 5.7, 5.9, 5.8, 5.6, 5.9, 5.7,
                  5.8, 5.6, 5.9, 5.7, 5.8, 5.6, 5.8, 5.7, 5.9, 5.6,
                  5.7, 5.8, 5.6, 5.8, 5.5, 5.7, 5.6, 5.8, 5.5, 5.7,
                  5.6, 5.8, 5.5, 5.7, 5.6, 5.8, 5.5, 5.7, 5.6, 5.7]),
    (105.25, 1.5, [5.7, 5.9, 5.8, 5.7, 6.0, 5.9, 5.9, 6.0, 5.8, 5.9,
                   5.9, 5.8, 6.0, 5.8, 5.9, 5.9, 5.8, 5.9, 5.9, 5.7,
                   5.8, 5.9, 5.7, 5.9, 5.8, 5.7, 5.9, 5.7, 5.8, 5.8,
                   5.7, 5.8, 5.8, 5.6, 5.7, 5.8, 5.6, 5.8, 5.7, 5.7,
                   5.8, 5.6, 5.7, 5.7, 5.6, 5.8, 5.7, 5.6, 5.7, 5.8,
                   5.7, 5.6, 5.7, 5.8, 5.7, 5.6, 5.8, 5.6, 5.7]),
    (197, 1.5, [5.6, 5.8, 5.5, 5.7, 5.6, 5.8, 5.5, 5.7, 5.6, 5.4, 5.7, 5.6, 5.8, 5.5, 5.7, 5.6, 5.8, 5.7, 5.9,
                5.8, 5.6, 5.7, 5.5, 5.7, 5.6, 5.8, 5.5, 5.7, 5.6, 5.8, 5.5, 5.7, 5.6, 5.8, 5.5, 5.7, 5.6, 5.8,
                5.5, 5.7, 5.6, 5.8, 5.7, 5.6, 5.8, 5.7]),
    (197.75, 1.5, [5.7, 5.6, 5.7, 5.8, 5.6, 5.7, 5.6, 5.8, 5.5, 5.7, 5.6, 5.7, 5.6, 5.8, 5.6, 5.7, 5.7, 5.8, 5.8,
                   5.7, 5.7, 5.6, 5.8, 5.6, 5.7, 5.6, 5.7, 5.8, 5.7, 5.6, 5.6, 5.8, 5.7, 5.6, 5.7, 5.8, 5.7, 5.6,
                   5.7, 5.8, 5.7, 5.6, 5.7, 5.8, 5.7]),
    (276.5, 1.5, [5.8, 6.0, 5.7, 5.9, 5.8, 6.0, 5.7]),
    (302, 1.5, [5.8, 5.9, 5.7, 6.0, 5.8, 5.7, 5.9, 5.8]),
    (322, 1.5, [5.7, 5.9, 5.8, 5.6, 5.8]),
    (330, 1.5, [5.6, 5.8, 5.5, 5.7, 5.6]),
]
UF4_DURING_X = [(1.0, 5.6), (1.6, 5.8), (62.6, -0.1), (274.0, 5.5), (289.0, 6.0), (296.3, 6.0), (316.5, 5.8)]
UF4_AFTER = [
    (8, 1.5, [7.1, 6.9, 7.2, 6.8, 7.0, 7.3, 6.9, 7.1, 6.8, 7.2, 7.0, 6.9, 7.2, 6.8, 7.1, 6.9, 7.2]),
    (8.75, 1.5, [7.0, 7.0, 7.0, 6.9, 7.2, 7.1, 7.0, 6.9, 7.0, 7.1, 6.9, 7.0, 7.0, 6.9, 7.0, 7.0]),
    (43.5, 1.5, [6.6, 7.0, 6.8]),
    (56.5, 1.5, [6.8, 7.1, 6.7, 7.0, 6.9, 7.2, 6.8, 7.0, 6.7, 7.1, 6.9, 7.0, 6.8, 7.2, 6.9, 7.0, 6.7, 7.1]),
    (57.25, 1.5, [7.0, 6.9, 6.9, 6.9, 7.1, 7.0, 6.9, 6.9, 6.9, 7.0, 7.0, 6.9, 7.0, 7.1, 6.9, 6.9, 6.9]),
    (89, 1.5, [6.8, 7.1, 6.9, 7.2]),
    (104.5, 1.5, [6.8, 7.0, 6.9, 7.1, 7.2, 7.4, 7.3, 7.6, 7.4, 7.7,
                  7.5, 7.3, 7.6, 7.4, 7.2, 7.5, 7.3, 7.4, 7.1, 7.3,
                  7.2, 7.0, 7.3, 7.1, 6.9, 7.2, 7.0, 7.1, 6.9, 7.0,
                  6.8, 7.0, 6.9, 6.7, 7.0, 6.8, 6.9, 6.7, 6.9, 6.8,
                  6.7, 6.9, 6.6, 6.8, 6.7, 6.9, 6.6, 6.8, 6.7, 6.6,
                  6.8, 6.6, 6.7, 6.9, 6.6, 6.8, 6.7, 6.5, 6.7, 6.6]),
    (105.25, 1.5, [6.9, 7.1, 7.0, 7.2, 7.3, 7.5, 7.4, 7.5, 7.6, 7.6,
                   7.4, 7.5, 7.5, 7.3, 7.4, 7.4, 7.2, 7.3, 7.2, 7.2,
                   7.1, 7.2, 7.2, 7.0, 7.1, 7.1, 6.9, 7.0, 7.0, 6.9,
                   6.9, 6.9, 6.8, 6.9, 6.9, 6.8, 6.8, 6.8, 6.8, 6.9,
                   6.8, 6.7, 6.7, 6.7, 6.8, 6.8, 6.7, 6.7, 6.6, 6.7,
                   6.7, 6.7, 6.8, 6.7, 6.7, 6.6, 6.6, 6.6, 6.6]),
    (197, 1.5, [7.0, 6.8, 7.2, 6.9, 7.1, 6.7, 7.0, 7.3, 6.9, 7.1, 6.8, 7.2, 7.0, 6.9, 7.3, 7.1, 7.4, 7.2, 7.5,
                7.3, 6.9, 6.5, 6.2, 6.0, 6.1, 5.9, 6.2, 6.0, 5.8, 6.1, 5.9, 6.0, 6.2, 5.9, 6.1, 5.8, 6.0, 6.2,
                5.9, 6.1, 6.0, 6.3, 6.1, 6.4, 6.2, 6.3]),
    (197.75, 1.5, [6.9, 7.0, 7.0, 7.0, 6.9, 6.9, 7.1, 7.1, 7.0, 7.0, 7.0, 7.1, 6.9, 7.1, 7.2, 7.2, 7.3, 7.3, 7.4,
                   7.1, 6.7, 6.3, 6.1, 6.0, 6.0, 6.0, 6.1, 5.9, 5.9, 6.0, 6.0, 6.1, 6.0, 6.0, 5.9, 5.9, 6.1, 6.0,
                   6.0, 6.1, 6.1, 6.2, 6.2, 6.3, 6.2]),
    (276.5, 1.5, [7.2, 6.9, 7.6, 7.1, 7.4, 6.9, 7.2]),
    (302, 1.5, [7.3, 7.1, 7.4, 7.0, 7.2, 7.4, 7.1, 6.9]),
    (322, 1.5, [7.0, 7.6, 7.2, 7.3, 6.9]),
    (330, 1.5, [6.8, 7.1, 6.9, 7.2, 7.0]),
]
UF4_AFTER_X = [(0.8, 7.5), (1.5, 7.3), (24.4, 7.5), (16.0, 7.4), (30.0, 7.3), (117.4, 8.2), (122.6, 7.9),
               (126.0, 7.8), (112.0, 7.6), (273.8, 6.4)]
UF4_BEFORE = [
    (8, 1.5, [7.6, 7.2, 6.5, 6.2, 6.7, 6.3, 6.6, 6.1, 6.5, 6.8, 6.2, 6.6, 6.4, 6.9, 6.3, 6.6, 6.2]),
    (8.75, 1.5, [7.3, 6.8, 6.4, 6.5, 6.5, 6.4, 6.4, 6.3, 6.7, 6.5, 6.4, 6.5, 6.7, 6.6, 6.4, 6.4]),
    (43.5, 1.5, [6.2, 5.9, 6.5]),
    (56.5, 1.5, [6.5, 6.0, 6.8, 6.2, 6.6, 5.9, 6.4, 6.7, 6.1, 6.5, 6.3, 6.8, 6.0, 6.4, 6.6, 6.2, 6.5, 6.1]),
    (57.25, 1.5, [6.3, 6.4, 6.5, 6.4, 6.3, 6.2, 6.6, 6.4, 6.3, 6.4, 6.6, 6.4, 6.2, 6.5, 6.4, 6.4, 6.3]),
    (89, 1.5, [6.2, 6.0, 6.4, 6.1]),
    (104.5, 1.5, [6.1, 6.5, 6.2, 6.7, 6.9, 7.1, 6.8, 7.3, 7.0, 7.2,
                  6.9, 7.2, 6.8, 7.0, 6.7, 7.1, 6.9, 6.6, 7.0, 6.8,
                  6.7, 6.4, 6.9, 6.5, 6.8, 6.3, 6.6, 6.9, 6.4, 6.7,
                  6.5, 6.2, 6.6, 6.3, 6.7, 6.1, 6.5, 6.4, 6.2, 6.6,
                  6.3, 6.0, 6.4, 6.1, 6.5, 5.9, 6.2, 6.4, 6.0, 6.3,
                  6.1, 5.8, 6.2, 6.0, 6.3, 5.9, 6.1, 5.7, 6.2, 6.0]),
    (105.25, 1.5, [6.3, 6.4, 6.5, 6.8, 7.0, 7.0, 7.1, 7.1, 7.1, 7.0,
                   7.0, 7.0, 6.9, 6.9, 6.9, 7.0, 6.8, 6.8, 6.9, 6.7,
                   6.6, 6.7, 6.7, 6.7, 6.6, 6.5, 6.8, 6.6, 6.6, 6.6,
                   6.4, 6.4, 6.5, 6.5, 6.4, 6.3, 6.4, 6.3, 6.4, 6.5,
                   6.2, 6.2, 6.3, 6.3, 6.2, 6.1, 6.3, 6.2, 6.2, 6.2,
                   6.0, 6.0, 6.1, 6.2, 6.1, 6.0, 5.9, 6.0, 6.1]),
    (197, 1.5, [6.5, 6.1, 6.8, 6.3, 6.6, 6.0, 6.4, 6.9, 6.2, 6.7, 6.1, 6.5, 6.8, 6.3, 6.6, 6.9, 6.4, 6.8, 6.6,
                5.8, 4.4, 4.2, 4.7, 5.0, 4.9, 5.2, 4.8, 5.1, 5.0, 5.3, 4.9, 5.1, 5.2, 4.8, 5.0, 5.3, 5.1, 4.9,
                5.2, 5.4, 5.1, 5.6, 5.3, 5.7, 5.5, 5.6]),
    (197.75, 1.5, [6.3, 6.5, 6.5, 6.5, 6.3, 6.2, 6.6, 6.6, 6.5, 6.4, 6.3, 6.7, 6.6, 6.5, 6.8, 6.7, 6.6, 6.7, 6.2,
                   5.0, 4.3, 4.5, 4.9, 5.0, 5.1, 5.0, 5.0, 5.1, 5.2, 5.1, 5.0, 5.2, 5.0, 4.9, 5.2, 5.2, 5.0, 5.1,
                   5.3, 5.3, 5.3, 5.5, 5.5, 5.6, 5.6]),
    (276.5, 1.5, [6.6, 7.5, 6.2, 6.9, 6.4, 7.1, 6.5]),
    (302, 1.5, [6.5, 7.0, 6.2, 6.8, 6.4, 6.9, 6.1, 6.6]),
    (322, 1.5, [6.4, 6.9, 6.1, 6.7, 6.3]),
    (330, 1.5, [6.6, 7.3, 6.2, 6.8, 6.4]),
]
UF4_BEFORE_X = [(0.8, 6.6), (1.3, 7.0), (1.7, 6.3), (27.7, 8.1), (25.8, 4.8), (21.0, 5.3), (166.2, 7.8),
                (120.0, 7.6), (114.5, 7.5), (226.0, 4.0), (226.5, 4.3), (227.2, 4.6), (273.8, 5.8), (274.2, 5.5),
                (289.0, 7.05), (289.3, 6.7), (289.6, 6.3), (296.3, 7.5), (296.6, 6.7), (316.3, 7.0), (316.6, 6.6),
                (316.8, 6.3)]

DATA = {
    0: {"DuringBP": (UF1_DURING, UF1_DURING_X), "AfterBP": (UF1_AFTER, UF1_AFTER_X), "BeforeBP": (UF1_BEFORE, UF1_BEFORE_X)},
    1: {"DuringBP": (UF2_DURING, UF2_DURING_X), "AfterBP": (UF2_AFTER, UF2_AFTER_X), "BeforeBP": (UF2_BEFORE, UF2_BEFORE_X)},
    2: {"DuringBP": (UF3_DURING, UF3_DURING_X), "AfterBP": (UF3_AFTER, UF3_AFTER_X), "BeforeBP": (UF3_BEFORE, UF3_BEFORE_X)},
    3: {"DuringBP": (UF4_DURING, UF4_DURING_X), "AfterBP": (UF4_AFTER, UF4_AFTER_X), "BeforeBP": (UF4_BEFORE, UF4_BEFORE_X)},
}


def build(segs, extras):
    hrs, vals = [], []
    for start, step, values in segs:
        for i, v in enumerate(values):
            hrs.append(start + i * step)
            vals.append(v)
    for h, v in extras:
        hrs.append(h)
        vals.append(v)
    return [T0 + pd.Timedelta(hours=h) for h in hrs], vals


# ---- layout geometry (paper fractions) ----
PLOT_DOM = [(0.7513, 0.9748), (0.5004, 0.7239), (0.2502, 0.4737), (0.0, 0.2235)]
STRIP_DOM = [(0.9748, 1.0), (0.7239, 0.7498), (0.4737, 0.4996), (0.2235, 0.2487)]
FONT = "Liberation Sans, Arial, sans-serif"
TXT = "#555555"

fig = make_subplots(rows=4, cols=1, shared_xaxes=True)

for p in range(4):
    for s in SERIES:
        segs, extras = DATA[p][s]
        x, y = build(segs, extras)
        fig.add_trace(go.Scatter(
            x=x, y=y, mode="markers", name=s, legendgroup=s, showlegend=False,
            marker=dict(symbol="circle-open", size=6, color=COLORS[s], line=dict(width=1.9, color=COLORS[s])),
            hoverinfo="x+y+name",
        ), row=p + 1, col=1)

for s in SERIES:
    fig.add_trace(go.Scatter(
        x=[None], y=[None], mode="markers", name=s, legendgroup=s, showlegend=True,
        marker=dict(symbol="circle", size=16, color=COLORS[s], line=dict(width=1.5, color=EDGE[s])),
    ), row=1, col=1)

x_range = [T0 - pd.Timedelta(hours=12), T0 + pd.Timedelta(hours=349.6)]
for p in range(4):
    ax = "xaxis" if p == 0 else f"xaxis{p + 1}"
    ay = "yaxis" if p == 0 else f"yaxis{p + 1}"
    fig.layout[ay].update(
        domain=list(PLOT_DOM[p]), range=[-0.92, 23.6], tickvals=Y_TICKS,
        showgrid=True, gridcolor="#cfcfcf", griddash="dot", gridwidth=1, zeroline=False,
        ticks="outside", ticklen=6, tickcolor="#c4c4c4", showline=False, ticklabelstandoff=3,
        tickfont=dict(family=FONT, size=22, color=TXT),
    )
    fig.layout[ax].update(
        range=x_range, tickvals=[pd.Timestamp(d) for d in X_TICK_DATES], ticktext=X_TICK_LABELS,
        showgrid=True, gridcolor="#cfcfcf", griddash="dot", gridwidth=1, zeroline=False, showline=False,
        showticklabels=(p == 3), ticks="outside" if p == 3 else "", ticklen=4, tickcolor="#c4c4c4",
        tickfont=dict(family=FONT, size=22, color=TXT),
    )

shapes = []
annotations = []
for p in range(4):
    sb, st = STRIP_DOM[p]
    pb, pt = PLOT_DOM[p]
    shapes.append(dict(type="rect", xref="paper", yref="paper", x0=0, x1=1, y0=sb, y1=st,
                       fillcolor="#f6f6f6", line=dict(color="#d9d9d9", width=2), layer="below"))
    shapes.append(dict(type="rect", xref="paper", yref="paper", x0=0, x1=1, y0=pb, y1=pt,
                       fillcolor="rgba(0,0,0,0)", line=dict(color="#d9d9d9", width=2), layer="above"))
    annotations.append(dict(text="<b>" + PANEL_TITLES[p] + "</b>", xref="paper", yref="paper",
                            x=0.5, y=(sb + st) / 2, showarrow=False, xanchor="center", yanchor="middle",
                            font=dict(family=FONT, size=27, color="#5a5a62")))

annotations.append(dict(
    text="<br>".join(NOTE), xref="paper", yref="paper", x=0.864, y=0.4996,
    xanchor="left", yanchor="top", showarrow=False, align="left",
    width=278, borderpad=25, bgcolor="#fdf6cc",
    font=dict(family=FONT, size=21, color="#333333"),
))

fig.update_layout(
    width=1231, height=1344,
    margin=dict(l=52, r=194, t=0, b=34),
    paper_bgcolor="white", plot_bgcolor="white",
    shapes=shapes, annotations=annotations,
    legend=dict(x=1.015, y=0.999, xanchor="left", yanchor="top", font=dict(family=FONT, size=21, color=TXT),
                bgcolor="rgba(0,0,0,0)", itemsizing="trace", tracegroupgap=3),
    showlegend=True,
)

fig.write_html("out.html")
